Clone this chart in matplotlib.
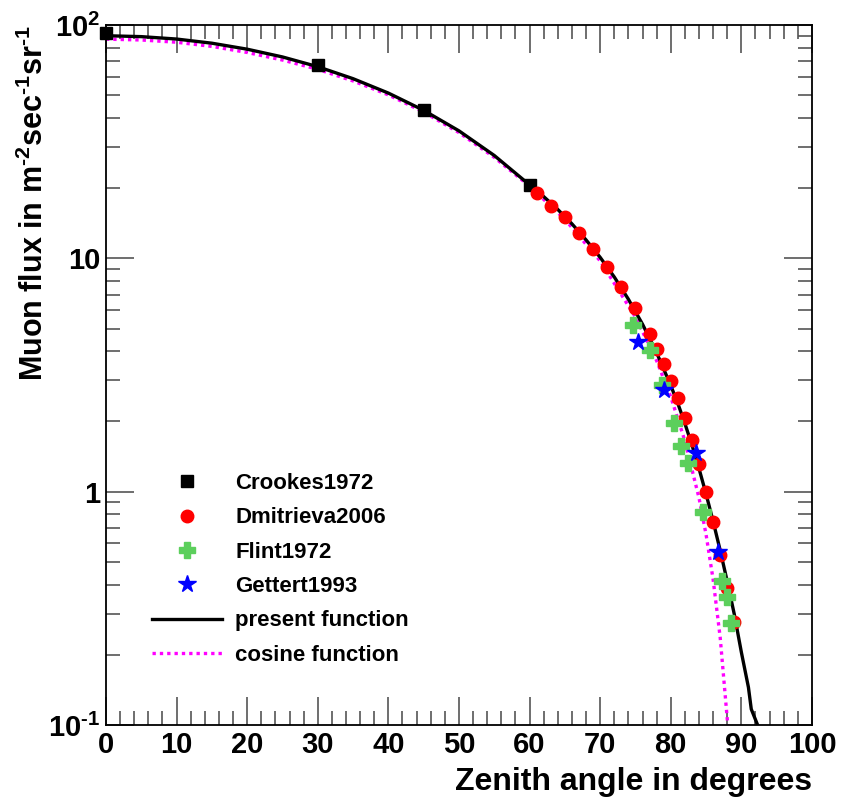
import matplotlib
matplotlib.use("Agg")
import matplotlib.pyplot as plt
from matplotlib.ticker import FixedLocator, FixedFormatter, MultipleLocator

plt.rcParams['font.family'] = ['Liberation Sans', 'DejaVu Sans']
plt.rcParams['font.weight'] = 'bold'
plt.rcParams['mathtext.fontset'] = 'custom'
plt.rcParams['mathtext.rm'] = 'Liberation Sans:bold'
plt.rcParams['mathtext.it'] = 'Liberation Sans:bold'
plt.rcParams['mathtext.bf'] = 'Liberation Sans:bold'
plt.rcParams['mathtext.default'] = 'rm'

# ---- data ----
crookes_angle = [0, 30, 45, 60]
crookes_flux = [92, 67.4, 43.3, 20.6]

dmitrieva_angle = [61, 63, 65, 67, 69, 71, 73, 75, 77, 78, 79, 80, 81, 82, 83, 84, 85, 86, 87, 88, 89]
dmitrieva_flux = [19.0, 16.8, 15.0, 12.9, 11.0, 9.15, 7.55, 6.11, 4.72, 4.07, 3.52, 2.98,
                  2.51, 2.06, 1.66, 1.31, 1.00, 0.743, 0.535, 0.385, 0.276]

flint_angle = [74.6, 77.0, 78.7, 80.5, 81.5, 82.4, 84.6, 87.2, 87.9, 88.6]
flint_flux = [5.18, 4.05, 2.86, 1.97, 1.57, 1.33, 0.82, 0.414, 0.352, 0.273]

gettert_angle = [75.3, 79.1, 83.6, 86.7]
gettert_flux = [4.39, 2.73, 1.47, 0.553]

present_angle = [0, 5, 10, 15, 20, 25, 30, 35, 40, 45, 50, 55, 60, 62, 64, 66, 68, 70, 72, 74, 76, 78,
                 80, 81, 82, 83, 84, 85, 86, 87, 88, 89, 90, 91, 91.4, 92.3, 92.6]
present_flux = [90, 89.2, 87.1, 83.6, 78.8, 73.0, 66.3, 58.9, 51.1, 43.1, 35.2, 27.6, 20.65, 18.4, 16.2,
                14.06, 12.0, 10.1, 8.32, 6.68, 5.22, 3.94, 2.85, 2.39, 1.96, 1.585, 1.256, 0.977, 0.746,
                0.560, 0.412, 0.298, 0.205, 0.145, 0.117, 0.100, 0.097]

cosine_angle = [0, 5, 10, 15, 20, 25, 30, 35, 40, 45, 50, 55, 60, 65, 70, 75, 78, 80, 82, 84, 85, 86, 87, 88, 88.3]
cosine_flux = [87, 86.3, 84.4, 81.0, 76.3, 70.8, 64.6, 57.6, 50.2, 42.4, 34.6, 27.1, 20.4, 14.7, 9.75,
               5.6, 3.64, 2.55, 1.65, 0.94, 0.655, 0.42, 0.237, 0.106, 0.0806]

xticks = [0, 10, 20, 30, 40, 50, 60, 70, 80, 90, 100]
yticks = [0.1, 1, 10, 100]
ytick_labels = ['$10^{\u20101}$', '1', '10', '$10^{2}$']

legend_labels = ['Crookes1972', 'Dmitrieva2006', 'Flint1972', 'Gettert1993', 'present function', 'cosine function']

# ---- figure ----
fig = plt.figure(figsize=(8.43, 8.08), dpi=100)
ax = fig.add_axes([0.1257, 0.1027, 0.8375, 0.8663])

h_cos, = ax.plot(cosine_angle, cosine_flux, color='#ff00ff', lw=2.4, linestyle=(0, (1.0, 1.2)),
                 dash_capstyle='butt', zorder=2)
h_pres, = ax.plot(present_angle, present_flux, color='black', lw=2.4, zorder=3)

h_cr, = ax.plot(crookes_angle, crookes_flux, 's', color='black', ms=9, ls='none', zorder=4, clip_on=False)
h_dm, = ax.plot(dmitrieva_angle, dmitrieva_flux, 'o', color='#ff0000', ms=9, ls='none', zorder=4)
h_fl, = ax.plot(flint_angle, flint_flux, 'P', color='#5ccf5c', ms=11, ls='none', zorder=5)
h_ge, = ax.plot(gettert_angle, gettert_flux, '*', color='#0000ff', ms=13, ls='none', zorder=6)

ax.set_yscale('log')
ax.set_xlim(0, 100)
ax.set_ylim(0.1, 100)

ax.xaxis.set_major_locator(FixedLocator(xticks))
ax.xaxis.set_minor_locator(MultipleLocator(2))
ax.yaxis.set_major_locator(FixedLocator(yticks))
ax.yaxis.set_major_formatter(FixedFormatter(ytick_labels))
ax.yaxis.set_minor_locator(FixedLocator([m * 10.0 ** e for e in (-1, 0, 1) for m in range(2, 10)]))
ax.yaxis.set_minor_formatter(FixedFormatter([]))

ax.tick_params(which='both', direction='in', top=True, right=True, color='#555555', width=1.2)
ax.tick_params(which='major', length=20, labelsize=21, pad=4)
ax.tick_params(which='minor', length=10)
for lab in ax.get_xticklabels() + ax.get_yticklabels():
    lab.set_fontweight('bold')
for s in ax.spines.values():
    s.set_linewidth(1.3)

ax.set_xlabel('Zenith angle in degrees', fontsize=23, fontweight='bold', loc='right', labelpad=6)
ax.set_ylabel('Muon flux in m$^{\u20102}$sec$^{\u20101}$sr$^{\u20101}$', fontsize=22,
              fontweight='bold', loc='top', labelpad=-1)

leg = ax.legend([h_cr, h_dm, h_fl, h_ge, h_pres, h_cos], legend_labels,
                loc='lower left', bbox_to_anchor=(0.037, 0.056), frameon=False,
                handlelength=3.15, handletextpad=0.6, labelspacing=0.6,
                prop={'weight': 'bold', 'size': 16})

fig.savefig('out.png', dpi=100)
